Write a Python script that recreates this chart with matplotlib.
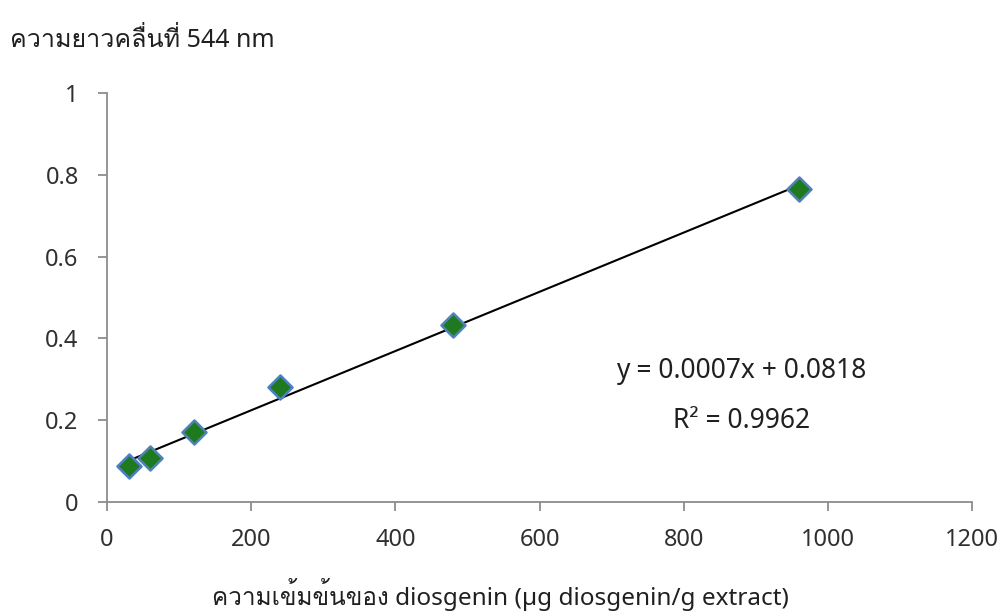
import numpy as np
import matplotlib
matplotlib.use('Agg')
import matplotlib.pyplot as plt

conc = [30, 60, 120, 240, 480, 960]
absorb = [0.088, 0.108, 0.170, 0.280, 0.432, 0.766]
x_ticks = [0, 200, 400, 600, 800, 1000, 1200]
y_ticks = [0, 0.2, 0.4, 0.6, 0.8, 1]
y_labels = ['0', '0.2', '0.4', '0.6', '0.8', '1']

# Loma carries the Thai glyphs (tone marks stack correctly without shaping)
plt.rcParams['font.family'] = ['Noto Sans', 'Loma', 'DejaVu Sans']

fig = plt.figure(figsize=(10.01, 6.12), dpi=100)
ax = fig.add_axes([0.107, 0.180, 0.864, 0.668])

# linear trendline
k, b = np.polyfit(conc, absorb, 1)
xl = np.array([conc[0], conc[-1]])
ax.plot(xl, k * xl + b, color='black', lw=1.5, zorder=2)

ax.scatter(conc, absorb, marker='D', s=150, facecolor='#1f7a1f',
           edgecolor='#4f81bd', linewidth=1.8, zorder=3)

ax.set_xlim(0, 1200)
ax.set_ylim(0, 1)
ax.set_xticks(x_ticks)
ax.set_yticks(y_ticks)
ax.set_yticklabels(y_labels)
for s in ['top', 'right']:
    ax.spines[s].set_visible(False)
for s in ['left', 'bottom']:
    ax.spines[s].set_color('#8c8c8c')
    ax.spines[s].set_linewidth(1.3)
ax.tick_params(colors='#8c8c8c', labelcolor='#303030', labelsize=17,
               length=6.5, width=1.3, direction='out')
ax.tick_params(axis='y', pad=14)
ax.tick_params(axis='x', pad=12)

fig.text(0.5, 0.012, 'ความเข้มข้นของ diosgenin (µg diosgenin/g extract)',
         fontsize=17.5, color='#202020', ha='center', va='baseline')
fig.text(0.01, 0.923, 'ความยาวคลื่นที่ 544 nm', fontsize=18, color='#202020',
         va='baseline')

ax.text(880, 0.303, 'y = 0.0007x + 0.0818', fontsize=19, color='#202020',
        ha='center', va='baseline')
ax.text(880, 0.181, 'R² = 0.9962', fontsize=19, color='#202020',
        ha='center', va='baseline')

fig.savefig('out.png', dpi=100)
